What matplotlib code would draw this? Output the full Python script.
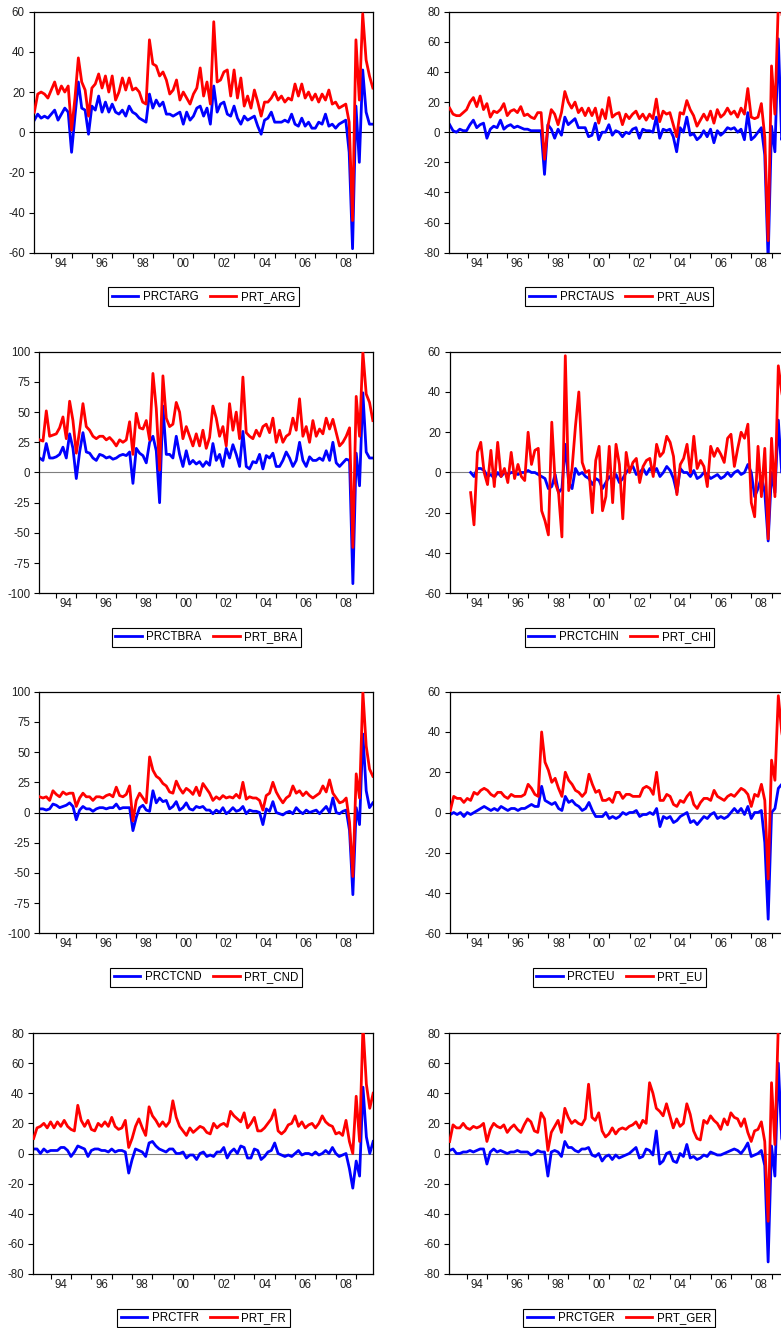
import numpy as np
import pandas as pd
import matplotlib
matplotlib.use('Agg')
import matplotlib.pyplot as plt

plt.rcParams['font.family'] = ['Liberation Sans', 'DejaVu Sans']
plt.rcParams['axes.unicode_minus'] = False

# bi-monthly observations, 1993M03 .. 2009M11
dates = pd.date_range('1993-03-01', periods=101, freq='2MS')
t = dates.year + (dates.month - 1) / 12
nan = np.nan

# ---- Argentina
prctarg = [6, 9, 7, 8, 7,
           9, 11, 6, 9, 12, 10,
           -10, 8, 25, 12, 11, -1,
           13, 11, 18, 10, 15, 10,
           14, 10, 9, 11, 8, 13,
           10, 9, 7, 6, 5, 19,
           12, 16, 13, 15, 9, 9,
           8, 9, 10, 4, 10, 6,
           8, 12, 13, 8, 12, 4,
           23, 10, 14, 15, 9, 8,
           13, 7, 4, 8, 6, 7,
           8, 3, -1, 6, 7, 10,
           5, 5, 5, 6, 5, 9,
           4, 3, 7, 3, 5, 2,
           2, 5, 4, 9, 3, 4,
           2, 4, 5, 6, -10, -58,
           13, -15, 31, 10, 4, 4]
prt_arg = [10, 19, 20, 19, 17,
           21, 25, 19, 23, 20, 23,
           1, 17, 37, 25, 21, 8,
           22, 24, 29, 22, 28, 20,
           28, 16, 20, 27, 21, 27,
           21, 22, 20, 15, 14, 46,
           34, 33, 28, 30, 26, 19,
           21, 26, 16, 20, 17, 14,
           19, 22, 32, 18, 25, 14,
           55, 25, 26, 30, 31, 18,
           31, 17, 27, 13, 18, 12,
           21, 15, 8, 15, 15, 17,
           20, 16, 18, 15, 17, 16,
           24, 18, 24, 17, 20, 16,
           19, 15, 19, 16, 21, 14,
           15, 12, 13, 14, 5, -44,
           46, 16, 59, 36, 28, 22]

# ---- Australia
prctaus = [5, 1, 0, 2, 1,
           1, 5, 8, 3, 5, 6,
           -4, 2, 4, 3, 8, 2,
           4, 5, 3, 4, 3, 2,
           2, 1, 1, 1, 1, -28,
           5, 2, -4, 2, -2, 10,
           5, 7, 9, 3, 3, 3,
           -3, -2, 6, -5, 0, 0,
           5, -2, 1, 0, -3, 0,
           -1, 2, 3, -4, 2, 1,
           1, 0, 10, -4, 2, 1,
           2, -3, -13, 3, 0, 10,
           -2, -1, -5, -3, 1, -3,
           2, -7, 1, -2, 0, 3,
           2, 3, 0, 2, -5, 13,
           -5, -3, 0, 3, -15, -85,
           4, -13, 62, -5, 3, 3]
prt_aus = [16, 12, 11, 11, 13,
           15, 20, 23, 17, 24, 15,
           19, 10, 14, 13, 15, 19,
           11, 14, 15, 13, 17, 11,
           12, 10, 9, 13, 13, -18,
           4, 15, 12, 5, 13, 27,
           20, 16, 20, 13, 16, 11,
           16, 11, 16, 6, 15, 9,
           23, 10, 12, 13, 5, 12,
           9, 12, 14, 9, 12, 8,
           12, 9, 22, 7, 14, 12,
           13, 5, -3, 13, 12, 21,
           15, 11, 4, 8, 12, 8,
           14, 6, 15, 10, 12, 16,
           12, 14, 10, 16, 12, 29,
           10, 9, 10, 19, -3, -72,
           44, 12, 85, 80, 60, 40]

# ---- Brazil
prctbra = [12, 10, 24, 12, 12,
           13, 15, 21, 12, 32, 20,
           -5, 17, 33, 17, 16, 12,
           10, 15, 14, 12, 13, 11,
           12, 14, 15, 14, 17, -9,
           20, 16, 14, 8, 25, 30,
           18, -25, 55, 15, 15, 12,
           30, 15, 5, 18, 7, 10,
           7, 9, 5, 9, 6, 24,
           10, 15, 5, 20, 12, 23,
           15, 5, 34, 5, 3, 9,
           8, 15, 3, 14, 12, 16,
           5, 5, 10, 17, 12, 5,
           10, 25, 10, 5, 13, 10,
           10, 12, 10, 18, 10, 25,
           8, 5, 8, 11, 10, -92,
           16, -11, 66, 17, 12, 12]
prt_bra = [27, 26, 51, 30, 31,
           32, 37, 46, 28, 59, 43,
           16, 35, 57, 38, 35, 30,
           28, 30, 30, 27, 29, 26,
           22, 27, 25, 27, 42, 15,
           49, 37, 36, 43, 27, 82,
           53, 2, 80, 45, 38, 40,
           58, 50, 28, 38, 30, 22,
           32, 22, 35, 20, 29, 55,
           45, 30, 38, 22, 57, 35,
           50, 28, 79, 33, 30, 28,
           35, 30, 38, 40, 33, 45,
           25, 35, 25, 30, 32, 45,
           35, 61, 30, 38, 25, 43,
           30, 36, 32, 45, 36, 44,
           33, 22, 25, 30, 37, -62,
           63, 30, 100, 65, 58, 43]

# ---- China (starts 1994)
prctchin = [nan, nan, nan, nan, nan,
            nan, 0, -2, 2, 2, 1,
            -2, -1, -3, 0, -2, 0,
            -1, 0, 0, -1, 0, 0,
            1, 0, 0, -1, -2, -3,
            -8, -7, -1, -10, -8, 14,
            -5, -8, 2, -1, 0, -2,
            -3, -6, -3, -4, -8, -5,
            -2, -4, -1, -5, -3, 0,
            2, 3, -1, 0, 2, -1,
            2, 0, 2, -2, 0, 3,
            1, -3, -10, 2, 0, 0,
            -2, 1, -3, -2, 0, -1,
            -3, -2, -1, -3, -2, 0,
            -2, 0, 1, -1, 0, 4,
            0, -12, -8, -2, -10, -34,
            0, -10, 26, 0, 2, 2]
prt_chi = [nan, nan, nan, nan, nan,
           nan, -10, -26, 10, 15, 0,
           -6, 11, -7, 15, -2, 2,
           -5, 10, -3, 4, -2, -4,
           20, 4, 11, 12, -19, -24,
           -31, 25, -5, -10, -32, 58,
           -9, 2, 23, 40, 5, 0,
           1, -20, 6, 13, -19, -12,
           13, -15, 14, 4, -23, 10,
           0, 5, 7, -5, 3, 6,
           7, -2, 14, 8, 10, 18,
           15, 8, -11, 4, 7, 14,
           0, 18, 2, 6, 3, -7,
           13, 8, 12, 9, 5, 17,
           19, 3, 12, 20, 17, 24,
           -15, -22, 13, -12, 12, -33,
           17, -12, 53, 40, 30, 25]

# ---- Canada
prctcnd = [3, 3, 2, 3, 7,
           6, 4, 5, 6, 8, 5,
           -6, 2, 5, 3, 3, 1,
           3, 4, 4, 3, 4, 4,
           7, 3, 4, 4, 4, -15,
           -4, 4, 6, 2, 1, 18,
           8, 12, 9, 10, 3, 5,
           9, 2, 4, 8, 3, 2,
           5, 4, 5, 2, 2, -1,
           2, 0, 4, -1, 1, 4,
           1, 2, 5, -1, 2, 1,
           1, 0, -10, 3, 1, 9,
           0, -1, -2, 0, 1, -1,
           4, 1, -1, 2, 0, 1,
           2, -1, 2, 5, 0, 12,
           0, -1, 1, 2, -15, -68,
           4, -10, 65, 18, 4, 8]
prt_cnd = [13, 12, 13, 10, 18,
           15, 13, 17, 15, 16, 16,
           5, 12, 16, 13, 13, 10,
           13, 13, 12, 14, 15, 13,
           21, 14, 13, 15, 22, -7,
           10, 16, 12, 8, 46, 35,
           30, 28, 24, 22, 17, 16,
           26, 20, 16, 20, 18, 15,
           21, 14, 24, 20, 16, 10,
           13, 11, 14, 12, 13, 12,
           15, 12, 25, 11, 13, 12,
           12, 10, 2, 14, 16, 25,
           17, 12, 8, 12, 14, 22,
           16, 18, 14, 17, 14, 12,
           14, 16, 22, 17, 27, 16,
           12, 8, 9, 12, -8, -53,
           32, 12, 100, 55, 36, 30]

# ---- Euro area
prcteu = [-1, 0, -1, 0, -2,
          0, -1, 0, 1, 2, 3,
          2, 1, 2, 1, 3, 2,
          1, 2, 2, 1, 2, 2,
          3, 4, 3, 3, 13, 6,
          5, 4, 5, 2, 1, 8,
          5, 6, 4, 3, 1, 2,
          5, 1, -2, -2, -2, 0,
          -3, -2, -3, -2, 0, -1,
          0, 0, 1, -2, -1, -1,
          0, -1, 2, -7, -2, -3,
          -2, -5, -4, -2, -1, 0,
          -5, -4, -6, -4, -2, -3,
          -1, 0, -3, -2, -3, -2,
          0, 2, 0, 2, -1, 3,
          -3, 0, 0, 1, -15, -53,
          0, 2, 12, 14, 10, 8]
prt_eu = [1, 8, 7, 7, 5,
          7, 6, 10, 9, 11, 12,
          11, 9, 8, 10, 10, 8,
          7, 9, 8, 8, 8, 9,
          14, 12, 9, 8, 40, 25,
          21, 15, 17, 12, 8, 20,
          16, 14, 11, 10, 8, 10,
          19, 14, 10, 11, 6, 6,
          7, 5, 10, 10, 7, 9,
          9, 8, 8, 8, 12, 13,
          12, 9, 20, 6, 6, 9,
          8, 4, 3, 6, 5, 8,
          10, 4, 2, 5, 7, 7,
          6, 11, 8, 7, 6, 8,
          9, 8, 10, 12, 11, 9,
          3, 9, 8, 14, 6, -33,
          26, 16, 58, 40, 30, 25]

# ---- France
prctfr = [3, 3, 0, 3, 1,
          2, 2, 2, 4, 4, 2,
          -2, 1, 5, 4, 3, -2,
          2, 3, 3, 2, 2, 1,
          3, 1, 2, 2, 1, -13,
          -4, 3, 2, 1, -2, 7,
          8, 5, 3, 2, 1, 3,
          3, 0, 0, 1, -3, -1,
          -1, -4, 0, 1, -2, -1,
          -2, 1, 1, 4, -3, 1,
          3, 0, 5, 4, -3, -3,
          3, 2, -4, -2, 1, 2,
          7, 0, -1, -2, -1, -2,
          0, 2, -1, 0, 0, -1,
          1, -1, 0, 2, 0, 4,
          0, -2, -1, 0, -10, -23,
          -5, -15, 44, 11, 0, 8]
prt_fr = [10, 17, 18, 20, 17,
          21, 17, 21, 18, 22, 18,
          16, 15, 32, 22, 18, 22,
          16, 15, 20, 18, 21, 18,
          24, 18, 16, 17, 22, 4,
          10, 18, 23, 17, 12, 31,
          25, 22, 18, 21, 18, 21,
          35, 24, 18, 15, 12, 17,
          14, 16, 18, 17, 14, 13,
          20, 17, 19, 20, 18, 28,
          25, 23, 21, 27, 17, 20,
          24, 15, 15, 17, 20, 23,
          29, 15, 13, 15, 19, 20,
          25, 18, 21, 17, 19, 20,
          17, 20, 25, 21, 19, 18,
          13, 14, 12, 22, 8, 0,
          38, 8, 85, 46, 30, 40]

# ---- Germany
prctger = [2, 3, 0, 0, 1,
           1, 2, 1, 2, 3, 3,
           -7, 1, 3, 1, 2, 1,
           0, 1, 1, 2, 1, 1,
           1, -1, 0, 2, 1, 1,
           -15, 1, 2, 1, -2, 8,
           4, 4, 2, 1, 3, 3,
           4, -1, -2, 0, -5, -2,
           -1, -4, -1, -3, -2, -1,
           0, 2, 4, -3, -2, 3,
           2, -1, 15, -7, -5, 0,
           1, -5, -6, 0, -2, 6,
           -3, -2, -4, -3, -1, -2,
           1, 0, -1, -1, 0, 1,
           2, 3, 2, 0, 3, 7,
           -2, -1, 0, 2, -8, -72,
           5, -15, 60, 10, 3, 2]
prt_ger = [8, 19, 17, 17, 20,
           17, 16, 18, 17, 18, 20,
           8, 16, 20, 18, 17, 19,
           14, 17, 19, 16, 14, 19,
           23, 21, 15, 14, 27, 23,
           2, 14, 18, 22, 14, 30,
           24, 20, 22, 20, 19, 23,
           46, 24, 22, 27, 15, 11,
           13, 17, 13, 16, 17, 16,
           18, 19, 21, 17, 22, 20,
           47, 40, 30, 28, 25, 33,
           25, 17, 23, 18, 20, 33,
           26, 15, 10, 9, 22, 20,
           25, 22, 20, 16, 23, 19,
           27, 24, 23, 18, 23, 14,
           8, 15, 16, 21, 8, -45,
           47, 6, 85, 85, 70, 50]

W, H = 781, 1328
fig = plt.figure(figsize=(W / 100, H / 100), dpi=100)

# (left, top, right, bottom) in pixels; the right column runs off the page
panels = [
    ((34.0, 11.7, 373.0, 252.7), prctarg, prt_arg, 'PRCTARG', 'PRT_ARG', 60, 20, 'black'),
    ((449.3, 11.7, 788.6, 252.7), prctaus, prt_aus, 'PRCTAUS', 'PRT_AUS', 80, 20, 'black'),
    ((39.3, 351.7, 373.0, 593.3), prctbra, prt_bra, 'PRCTBRA', 'PRT_BRA', 100, 25, '#7f7f7f'),
    ((450.0, 351.7, 788.6, 593.3), prctchin, prt_chi, 'PRCTCHIN', 'PRT_CHI', 60, 20, '#7f7f7f'),
    ((39.3, 691.7, 373.0, 933.3), prctcnd, prt_cnd, 'PRCTCND', 'PRT_CND', 100, 25, 'black'),
    ((450.0, 691.7, 788.6, 933.3), prcteu, prt_eu, 'PRCTEU', 'PRT_EU', 60, 20, '#7f7f7f'),
    ((33.3, 1033.0, 373.3, 1274.0), prctfr, prt_fr, 'PRCTFR', 'PRT_FR', 80, 20, '#7f7f7f'),
    ((449.3, 1033.0, 788.6, 1274.0), prctger, prt_ger, 'PRCTGER', 'PRT_GER', 80, 20, '#7f7f7f'),
]

fs = 8.3
for (l, tp, r, b), blue, red, lab_b, lab_r, ymax, step, zc in panels:
    ax = fig.add_axes([l / W, 1 - b / H, (r - l) / W, (b - tp) / H])
    ax.axhline(0, color=zc, lw=0.8, zorder=1)
    ax.plot(t, blue, color='#0000ff', lw=2.0, label=lab_b, zorder=2)
    ax.plot(t, red, color='#ff0000', lw=2.0, label=lab_r, zorder=3)

    ax.set_xlim(1993.15, 2009.84)
    ax.set_ylim(-ymax, ymax)
    ax.set_yticks(np.arange(-ymax, ymax + 1, step))

    ax.set_xticks(np.arange(1994, 2010))
    ax.set_xticklabels([])
    ax.set_xticks(np.arange(1994.5, 2009, 2), minor=True)
    ax.set_xticklabels(['%02d' % (y % 100) for y in range(1994, 2009, 2)], minor=True)
    ax.tick_params(axis='x', which='major', direction='out', length=3.6, width=0.8)
    ax.tick_params(axis='x', which='minor', length=0, pad=3.5, labelsize=fs, labelcolor='#222222')
    ax.tick_params(axis='y', direction='out', length=3.6, width=0.8, pad=3,
                   labelsize=fs, labelcolor='#222222')
    for s in ax.spines.values():
        s.set_linewidth(0.9)
        s.set_color('black')

    leg = ax.legend(loc='upper center', bbox_to_anchor=(0.5, -34.5 / (b - tp)),
                    ncol=2, fontsize=fs, frameon=True, fancybox=False,
                    edgecolor='black', framealpha=1, borderpad=0.3,
                    handlelength=2.3, handletextpad=0.4, columnspacing=1.0,
                    borderaxespad=0)
    leg.get_frame().set_linewidth(0.8)

fig.savefig('out.png', dpi=100)
